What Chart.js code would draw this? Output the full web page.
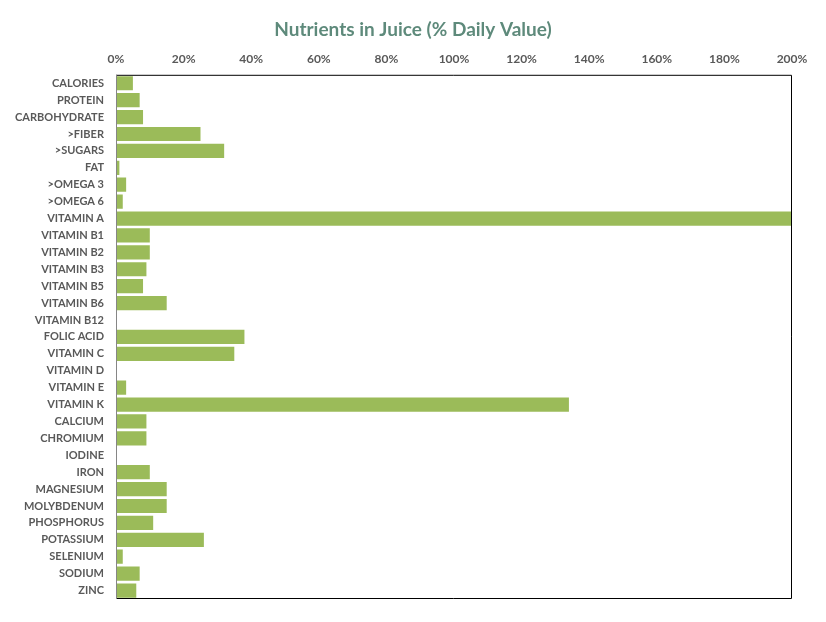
<!DOCTYPE html>
<html>
<head>
<meta charset="utf-8">
<script src="https://cdn.jsdelivr.net/npm/chart.js@4"></script>
<style>
  html, body { margin: 0; padding: 0; background: #fff; }
  #wrap { width: 826px; height: 622px; }
</style>
</head>
<body>
<div id="wrap"><canvas id="chart" width="826" height="622"></canvas></div>
<script>
// Nutrients as % of daily value.
const nutrients = [
  "CALORIES", "PROTEIN", "CARBOHYDRATE", ">FIBER", ">SUGARS", "FAT", ">OMEGA 3", ">OMEGA 6",
  "VITAMIN A", "VITAMIN B1", "VITAMIN B2", "VITAMIN B3", "VITAMIN B5", "VITAMIN B6", "VITAMIN B12",
  "FOLIC ACID", "VITAMIN C", "VITAMIN D", "VITAMIN E", "VITAMIN K", "CALCIUM", "CHROMIUM", "IODINE",
  "IRON", "MAGNESIUM", "MOLYBDENUM", "PHOSPHORUS", "POTASSIUM", "SELENIUM", "SODIUM", "ZINC"
];
const dailyValuePct = [
  5, 7, 8, 25, 32, 1, 3, 2,
  200, 10, 10, 9, 8, 15, 0,
  38, 35, 0, 3, 134, 9, 9, 0,
  10, 15, 15, 11, 26, 2, 7, 6
];
const xTicks = [0, 20, 40, 60, 80, 100, 120, 140, 160, 180, 200];

const LABEL = "#595959";
const FONT = "Lato, 'Open Sans', sans-serif";

// Black frame on top/right/bottom, gray axis line on the left (as in the original).
const frame = {
  id: "frame",
  afterDatasetsDraw(c) {
    const { left, right, top, bottom } = c.chartArea;
    const ctx = c.ctx;
    ctx.save();
    ctx.lineWidth = 1;
    ctx.strokeStyle = "#000";
    ctx.beginPath();
    ctx.moveTo(left, top + 0.5);
    ctx.lineTo(right - 0.5, top + 0.5);
    ctx.lineTo(right - 0.5, bottom - 0.5);
    ctx.lineTo(left, bottom - 0.5);
    ctx.stroke();
    ctx.strokeStyle = "#868686";
    ctx.beginPath();
    ctx.moveTo(left + 0.5, top);
    ctx.lineTo(left + 0.5, bottom);
    ctx.stroke();
    ctx.restore();
  },
};

new Chart(document.getElementById("chart"), {
  type: "bar",
  data: {
    labels: nutrients,
    datasets: [{
      data: dailyValuePct,
      backgroundColor: "#9bbb59",
      borderWidth: 0,
      barPercentage: 0.84,
      categoryPercentage: 1,
    }],
  },
  options: {
    indexAxis: "y",
    responsive: false,
    animation: false,
    layout: { padding: { left: 0, right: 0, top: 0, bottom: 23 } },
    plugins: {
      legend: { display: false },
      tooltip: { enabled: false },
      title: {
        display: true,
        text: "Nutrients in Juice (% Daily Value)",
        color: "#5e8a7b",
        font: { family: FONT, size: 19, weight: "bold" },
        padding: { top: 18, bottom: 9 },
      },
    },
    scales: {
      x: {
        position: "top",
        min: 0,
        max: 200,
        afterBuildTicks: (s) => { s.ticks = xTicks.map((v) => ({ value: v })); },
        afterFit: (s) => { s.height = 25; },
        grid: { display: false },
        border: { display: false },
        ticks: {
          color: LABEL,
          padding: 0,
          font: { family: FONT, size: 12, weight: "bold" },
          callback: (v) => v + "%",
        },
      },
      y: {
        afterFit: (s) => { s.width = 116; },
        grid: { display: false },
        border: { display: false },
        ticks: {
          color: LABEL,
          padding: 4,
          autoSkip: false,
          font: { family: FONT, size: 11, weight: "bold" },
        },
      },
      // empty right-hand axis, only to reserve the right margin so the title stays centred
      yRight: {
        type: "linear",
        position: "right",
        afterFit: (s) => { s.width = 34; },
        grid: { display: false },
        border: { display: false },
        ticks: { display: false },
      },
    },
  },
  plugins: [frame],
});
</script>
</body>
</html>
